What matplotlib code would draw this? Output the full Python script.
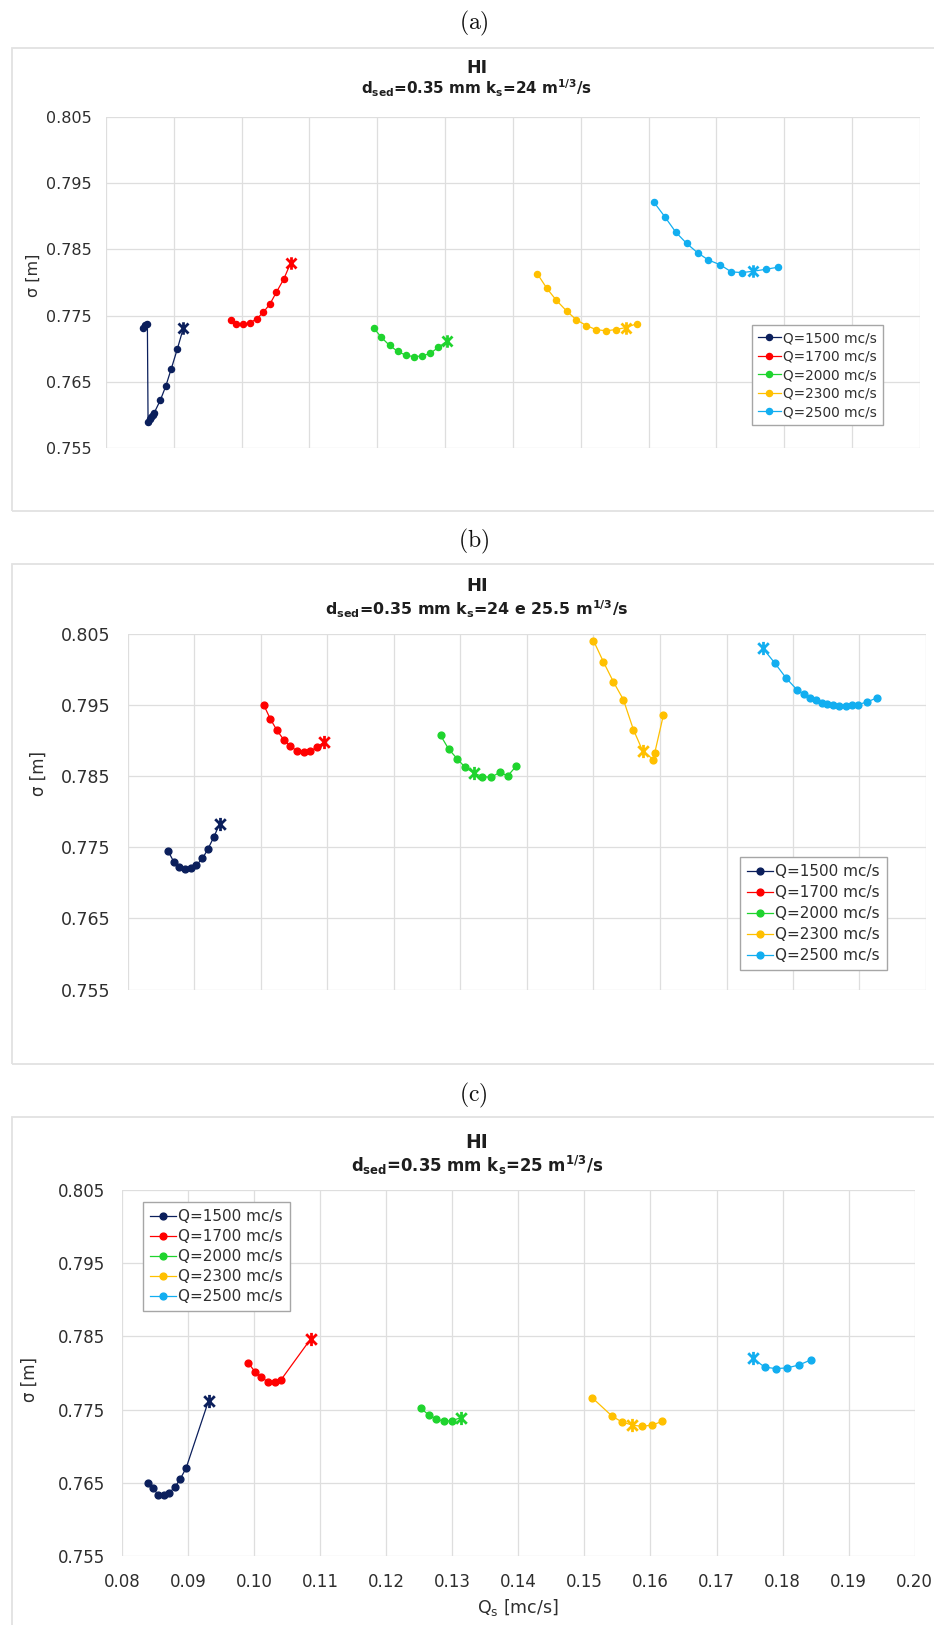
import numpy as np
import matplotlib
matplotlib.use("Agg")
import matplotlib.pyplot as plt
from matplotlib.path import Path
from matplotlib.patches import Rectangle
from matplotlib.lines import Line2D

plt.rcParams['font.family'] = ['DejaVu Sans']

# ---------------- data ----------------
series_labels = ["Q=1500 mc/s", "Q=1700 mc/s", "Q=2000 mc/s", "Q=2300 mc/s", "Q=2500 mc/s"]
series_colors = ["#0b1f5c", "#ff0000", "#1fd42e", "#ffc000", "#12aef0"]
x_ticks = [0.08, 0.09, 0.10, 0.11, 0.12, 0.13, 0.14, 0.15, 0.16, 0.17, 0.18, 0.19, 0.20]
y_ticks = [0.755, 0.765, 0.775, 0.785, 0.795, 0.805]

# panel (a)  k_s = 24
qs_a_1500 = [0.0854, 0.0858, 0.0861, 0.0862, 0.0865, 0.0867, 0.0869, 0.0871, 0.0880, 0.0888, 0.0896, 0.0905, 0.0914]
sg_a_1500 = [0.7732, 0.7736, 0.7738, 0.7590, 0.7594, 0.7597, 0.7600, 0.7603, 0.7622, 0.7643, 0.7669, 0.7699, 0.7731]
qs_a_1700 = [0.0984, 0.0992, 0.1002, 0.1012, 0.1022, 0.1032, 0.1042, 0.1051, 0.1062, 0.1072]
sg_a_1700 = [0.7743, 0.7738, 0.7737, 0.7739, 0.7745, 0.7755, 0.7768, 0.7785, 0.7805, 0.7829]
qs_a_2000 = [0.1195, 0.1206, 0.1218, 0.1230, 0.1242, 0.1254, 0.1266, 0.1278, 0.1290, 0.1303]
sg_a_2000 = [0.7731, 0.7717, 0.7705, 0.7696, 0.7690, 0.7688, 0.7689, 0.7693, 0.7702, 0.7712]
qs_a_2300 = [0.1436, 0.1450, 0.1464, 0.1479, 0.1493, 0.1508, 0.1522, 0.1537, 0.1552, 0.1567, 0.1583]
sg_a_2300 = [0.7813, 0.7791, 0.7773, 0.7757, 0.7744, 0.7735, 0.7729, 0.7727, 0.7729, 0.7732, 0.7738]
qs_a_2500 = [0.1608, 0.1624, 0.1640, 0.1656, 0.1672, 0.1688, 0.1705, 0.1722, 0.1738, 0.1754, 0.1773, 0.1790]
sg_a_2500 = [0.7921, 0.7899, 0.7876, 0.7859, 0.7845, 0.7834, 0.7827, 0.7816, 0.7815, 0.7817, 0.7820, 0.7823]
star_a = [12, 9, 9, 9, 9]

# panel (b)  k_s = 24 e 25.5
qs_b_1500 = [0.0860, 0.0869, 0.0877, 0.0886, 0.0894, 0.0903, 0.0912, 0.0920, 0.0929, 0.0938]
sg_b_1500 = [0.7745, 0.7729, 0.7722, 0.7719, 0.7720, 0.7725, 0.7734, 0.7747, 0.7764, 0.7783]
qs_b_1700 = [0.1004, 0.1014, 0.1024, 0.1034, 0.1044, 0.1054, 0.1064, 0.1074, 0.1084, 0.1095]
sg_b_1700 = [0.7950, 0.7930, 0.7914, 0.7901, 0.7892, 0.7885, 0.7884, 0.7885, 0.7890, 0.7898]
qs_b_2000 = [0.1270, 0.1282, 0.1295, 0.1307, 0.1320, 0.1333, 0.1346, 0.1359, 0.1371, 0.1384]
sg_b_2000 = [0.7907, 0.7888, 0.7874, 0.7862, 0.7854, 0.7849, 0.7848, 0.7855, 0.7850, 0.7864]
qs_b_2300 = [0.1500, 0.1515, 0.1530, 0.1545, 0.1560, 0.1574, 0.1590, 0.1592, 0.1605]
sg_b_2300 = [0.8040, 0.8010, 0.7982, 0.7957, 0.7915, 0.7885, 0.7873, 0.7882, 0.7935]
qs_b_2500 = [0.1755, 0.1773, 0.1790, 0.1806, 0.1816, 0.1825, 0.1834, 0.1843, 0.1851, 0.1860,
             0.1869, 0.1879, 0.1888, 0.1897, 0.1912, 0.1927]
sg_b_2500 = [0.8029, 0.8008, 0.7987, 0.7971, 0.7965, 0.7960, 0.7957, 0.7953, 0.7951, 0.7949,
             0.7948, 0.7948, 0.7949, 0.7950, 0.7954, 0.7960]
star_b = [9, 9, 4, 5, 0]

# panel (c)  k_s = 25
qs_c_1500 = [0.0839, 0.0847, 0.0855, 0.0863, 0.0871, 0.0880, 0.0888, 0.0897, 0.0931]
sg_c_1500 = [0.7650, 0.7643, 0.7633, 0.7633, 0.7636, 0.7644, 0.7655, 0.7670, 0.7762]
qs_c_1700 = [0.0991, 0.1001, 0.1011, 0.1021, 0.1031, 0.1041, 0.1086]
sg_c_1700 = [0.7814, 0.7802, 0.7794, 0.7788, 0.7788, 0.7791, 0.7847]
qs_c_2000 = [0.1252, 0.1264, 0.1276, 0.1288, 0.1300, 0.1313]
sg_c_2000 = [0.7752, 0.7743, 0.7737, 0.7734, 0.7735, 0.7739]
qs_c_2300 = [0.1512, 0.1542, 0.1557, 0.1572, 0.1587, 0.1603, 0.1618]
sg_c_2300 = [0.7766, 0.7741, 0.7733, 0.7729, 0.7727, 0.7729, 0.7734]
qs_c_2500 = [0.1755, 0.1773, 0.1790, 0.1807, 0.1825, 0.1843]
sg_c_2500 = [0.7820, 0.7808, 0.7806, 0.7807, 0.7811, 0.7818]
star_c = [8, 6, 5, 3, 0]

panel_letters = ["(a)", "(b)", "(c)"]
panel_ks = ["24", "24 e 25.5", "25"]
x_label = "Q$_\\mathregular{s}$ [mc/s]"
y_label = "σ [m]"

# ---------------- layout helpers ----------------
W, H = 934, 1625
fig = plt.figure(figsize=(W / 100, H / 100), dpi=100)


def ax_px(x0, y0, x1, y1):
    return fig.add_axes([x0 / W, 1 - y1 / H, (x1 - x0) / W, (y1 - y0) / H])


def fx(x):
    return x / W


def fy(y):
    return 1 - y / H


star_path = Path([(-1, -1), (1, 1), (-1, 1), (1, -1), (0, -1.25), (0, 1.25)],
                 [Path.MOVETO, Path.LINETO, Path.MOVETO, Path.LINETO, Path.MOVETO, Path.LINETO])

GRID = "#dedede"
TXT = "#2e2e2e"

panels = [
    dict(box=(106, 117, 920, 448), frame=(12, 48, 950, 510.5), letter_y=23,
         hi_y=72.7, sub_y=94, title_fs=10.9, hi_fs=12.5, tick_fs=11.5, leg_fs=9.8,
         leg_xy=(751.7, 325), ylab_xy=(33, 275), ylab_fs=11.5, pad=10.5, ms=4.4, sms=9.0,
         xs=[qs_a_1500, qs_a_1700, qs_a_2000, qs_a_2300, qs_a_2500],
         ys=[sg_a_1500, sg_a_1700, sg_a_2000, sg_a_2300, sg_a_2500], star=star_a, xlab=False,
         leg_spacing=0.33),
    dict(box=(128, 633.5, 926, 989.5), frame=(12, 564, 950, 1064), letter_y=541.7,
         hi_y=591, sub_y=615.4, title_fs=11.4, hi_fs=13, tick_fs=12.5, leg_fs=11.0,
         leg_xy=(740, 857), ylab_xy=(38.7, 774), ylab_fs=12, pad=12.5, ms=4.9, sms=9.5,
         xs=[qs_b_1500, qs_b_1700, qs_b_2000, qs_b_2300, qs_b_2500],
         ys=[sg_b_1500, sg_b_1700, sg_b_2000, sg_b_2300, sg_b_2500], star=star_b, xlab=False,
         leg_spacing=0.40),
    dict(box=(122, 1190, 914.7, 1556), frame=(12, 1117, 950, 1700), letter_y=1095,
         hi_y=1148.3, sub_y=1171.7, title_fs=11.9, hi_fs=13.5, tick_fs=12.0, leg_fs=11.0,
         leg_xy=(143, 1202), ylab_xy=(30, 1380), ylab_fs=12, pad=12, ms=4.9, sms=9.5,
         xs=[qs_c_1500, qs_c_1700, qs_c_2000, qs_c_2300, qs_c_2500],
         ys=[sg_c_1500, sg_c_1700, sg_c_2000, sg_c_2300, sg_c_2500], star=star_c, xlab=True,
         leg_spacing=0.33),
]

for p, letter, ks in zip(panels, panel_letters, panel_ks):
    # chart-area frame
    fx0, fy0, fx1, fy1 = p["frame"]
    fig.add_artist(Rectangle((fx(fx0), fy(fy1)), (fx1 - fx0) / W, (fy1 - fy0) / H,
                             transform=fig.transFigure, fill=False, edgecolor="#e2e2e2", lw=1.3))
    # panel letter
    fig.text(fx(473.5), fy(p["letter_y"]), "$\\mathrm{" + letter + "}$", math_fontfamily="cm",
             ha="center", va="center", fontsize=17, color="#111111")
    # titles
    fig.text(fx(477), fy(p["hi_y"]), "HI", ha="center", va="baseline",
             fontsize=p["hi_fs"], fontweight="bold", color="#1e1e1e")
    sub = ("d$_{\\mathbf{sed}}$=0.35 mm k$_{\\mathbf{s}}$=" + ks +
           " m$^{\\mathbf{1/3}}$/s")
    fig.text(fx(477), fy(p["sub_y"]), sub, ha="center", va="baseline",
             fontsize=p["title_fs"], fontweight="bold", color="#1e1e1e")

    ax = ax_px(*p["box"])
    for i in range(5):
        xs = np.array(p["xs"][i])
        ys = np.array(p["ys"][i])
        si = p["star"][i]
        col = series_colors[i]
        mask = np.ones(len(xs), dtype=bool)
        mask[si] = False
        ax.plot(xs, ys, color=col, lw=0.9, zorder=3)
        ax.plot(xs[mask], ys[mask], ls="none", marker="o", ms=p["ms"], color=col,
                mec=col, zorder=4)
        ax.plot(xs[si:si + 1], ys[si:si + 1], ls="none", marker=star_path, ms=p["sms"],
                mec=col, mfc=col, mew=2.0, zorder=5)

    ax.set_xlim(x_ticks[0], x_ticks[-1])
    ax.set_ylim(y_ticks[0], y_ticks[-1])
    ax.set_xticks(x_ticks)
    ax.set_yticks(y_ticks)
    ax.set_yticklabels([f"{v:.3f}" for v in y_ticks])
    ax.set_xticklabels([f"{v:.2f}" for v in x_ticks])
    ax.grid(True, color=GRID, lw=0.9, zorder=0)
    ax.set_axisbelow(True)
    for s in ax.spines.values():
        s.set_visible(False)
    ax.tick_params(length=0, labelsize=p["tick_fs"], colors=TXT, pad=p["pad"])
    if not p["xlab"]:
        ax.tick_params(labelbottom=False)
    else:
        ax.tick_params(axis="x", pad=12.5)

    fig.text(fx(p["ylab_xy"][0]), fy(p["ylab_xy"][1]), y_label, rotation=90,
             ha="center", va="center", fontsize=p["ylab_fs"], color=TXT)

    handles = [Line2D([0], [0], color=series_colors[i], lw=0.9, marker="o", ms=p["ms"])
               for i in range(5)]
    leg = ax.legend(handles, series_labels, loc="upper left",
                    bbox_to_anchor=(fx(p["leg_xy"][0]), fy(p["leg_xy"][1])),
                    bbox_transform=fig.transFigure, borderaxespad=0, fontsize=p["leg_fs"],
                    frameon=True, fancybox=False, edgecolor="#a6a6a6", framealpha=1,
                    handlelength=1.7, handletextpad=0.15, labelspacing=p["leg_spacing"],
                    borderpad=0.45)
    leg.get_frame().set_linewidth(1.0)
    for t in leg.get_texts():
        t.set_color(TXT)

fig.text(fx(518), fy(1608), x_label, ha="center", va="center", fontsize=12.5, color=TXT)

fig.savefig("out.png", dpi=100, facecolor="white")
